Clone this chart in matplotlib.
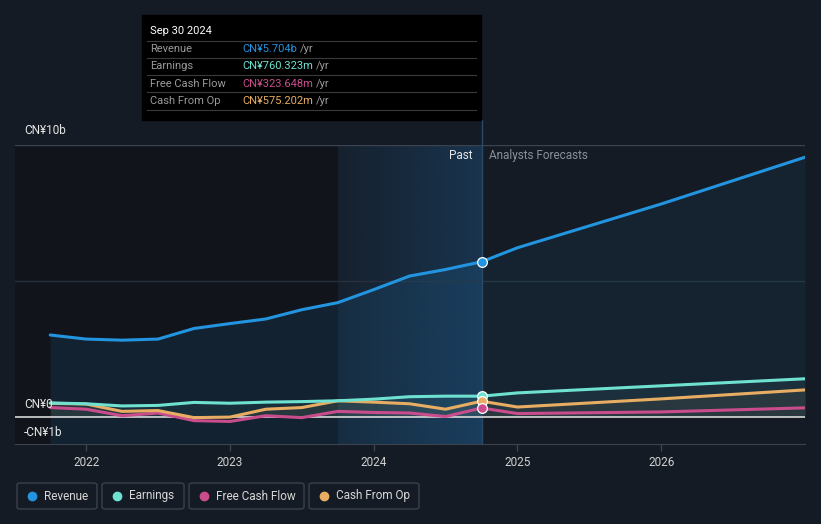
import numpy as np
import matplotlib.pyplot as plt
from matplotlib.patches import FancyBboxPatch, Rectangle
from matplotlib.lines import Line2D
from matplotlib.colors import to_rgb

plt.rcParams['font.family'] = ['Roboto', 'DejaVu Sans']

# quarterly history (CN¥ billions, trailing twelve months)
past_t = [2021.75, 2022.0, 2022.25, 2022.5, 2022.75, 2023.0, 2023.25,
          2023.5, 2023.75, 2024.0, 2024.25, 2024.5, 2024.75]
revenue = [3.01, 2.86, 2.82, 2.86, 3.25, 3.43, 3.60, 3.94, 4.20, 4.68, 5.18, 5.42, 5.704]
earnings = [0.51, 0.48, 0.40, 0.42, 0.53, 0.50, 0.54, 0.56, 0.59, 0.65, 0.74, 0.76, 0.760]
fcf = [0.34, 0.28, 0.04, 0.14, -0.14, -0.17, 0.04, -0.03, 0.20, 0.16, 0.14, 0.01, 0.324]
cfo = [0.50, 0.47, 0.20, 0.23, -0.03, -0.01, 0.28, 0.34, 0.59, 0.54, 0.48, 0.28, 0.575]

# analyst forecasts
fc_t = [2024.75, 2025.0, 2026.0, 2027.0]
revenue_fc = [5.704, 6.22, 7.83, 9.55]
earnings_fc = [0.760, 0.88, 1.14, 1.40]
fcf_fc = [0.324, 0.12, 0.18, 0.33]
cfo_fc = [0.575, 0.36, 0.66, 0.99]

years = [2022, 2023, 2024, 2025, 2026]

C_REV, C_EARN, C_FCF, C_CFO = '#2394df', '#6ee1d0', '#c94d8c', '#e8ad62'
BG = '#151b24'
W, H = 821, 524


def fx(px):
    return px / W


def fy(py):
    return 1 - py / H


fig = plt.figure(figsize=(W / 100, H / 100), dpi=100)
fig.patch.set_facecolor(BG)

# plot area: x 15..805 px, y 145 (10b) .. 444 (-1b)
ax = fig.add_axes([fx(15), fy(444), fx(805) - fx(15), fy(145) - fy(444)])
ax.set_facecolor(BG)
ax.set_xlim(2021.505, 2027.0)
ax.set_ylim(-1, 10)

# background bands
ax.axvspan(2021.505, 2023.75, color='#11151b', zorder=0, lw=0)
grad = np.zeros((2, 100, 4))
grad[..., :3] = to_rgb('#1d4d78')
grad[..., 3] = np.linspace(0.12, 0.5, 100)[None, :]
ax.imshow(grad, extent=(2023.75, 2024.75, -1, 10), aspect='auto', zorder=0.5,
          interpolation='bilinear')
ax.set_xlim(2021.505, 2027.0)
ax.set_ylim(-1, 10)

# grid
ax.axhline(10, color='#3b4350', lw=1, zorder=1)
ax.axhline(5, color='#27303c', lw=1, zorder=1)
ax.axhline(0, color='#d8d8d8', lw=1.2, zorder=4)

# revenue fills
ax.fill_between(past_t, revenue, -1, color=C_REV, alpha=0.11, lw=0, zorder=2)
ax.fill_between(fc_t, revenue_fc, 0, color=C_REV, alpha=0.07, lw=0, zorder=2)
for s, sf, c in [(earnings, earnings_fc, C_EARN), (cfo, cfo_fc, C_CFO)]:
    ax.fill_between(past_t, s, 0, color=c, alpha=0.07, lw=0, zorder=2)
    ax.fill_between(fc_t, sf, 0, color=c, alpha=0.07, lw=0, zorder=2)

# lines
for s, sf, c in [(fcf, fcf_fc, C_FCF), (cfo, cfo_fc, C_CFO),
                 (earnings, earnings_fc, C_EARN), (revenue, revenue_fc, C_REV)]:
    ax.plot(past_t, s, color=c, lw=2.2, solid_joinstyle='round',
            solid_capstyle='round', zorder=5)
    ax.plot(fc_t, sf, color=c, lw=2.2, solid_joinstyle='round',
            solid_capstyle='round', zorder=5)

# now line
ax.plot([2024.75, 2024.75], [-1, 10 + 25 / 27.2], color='#2a4966', lw=1,
        clip_on=False, zorder=3)

# markers at the latest reported point
for s, c in [(revenue, C_REV), (earnings, C_EARN), (cfo, C_CFO), (fcf, C_FCF)]:
    ax.plot(past_t[-1], s[-1], 'o', ms=7, mfc=c, mec='white', mew=0.9, zorder=7)

# axes styling
for sp in ['top', 'right', 'left']:
    ax.spines[sp].set_visible(False)
ax.spines['bottom'].set_color('#3b4350')
ax.set_yticks([])
ax.set_xticks(years)
ax.set_xticklabels([str(y) for y in years])
ax.tick_params(axis='x', colors='#3b4350', labelcolor='#d0d0d0', length=5,
               width=1, labelsize=8.5, pad=4)

# y labels
for txt, py in [('CN¥10b', 131), ('CN¥0', 404), ('-CN¥1b', 432)]:
    fig.text(fx(24), fy(py), txt, color='#e6e6e6', fontsize=8.5, va='center', ha='left')

fig.text(fx(472), fy(156), 'Past', color='#e6e6e6', fontsize=8.5, va='center', ha='right')
fig.text(fx(489), fy(156), 'Analysts Forecasts', color='#8a9099', fontsize=8.5,
         va='center', ha='left')

# tooltip
fig.patches.append(Rectangle((fx(142), fy(120)), fx(481) - fx(142), fy(15) - fy(120),
                             transform=fig.transFigure, color='black', zorder=10))
fig.text(fx(150), fy(31), 'Sep 30 2024', color='white', fontsize=8, va='center',
         ha='left', zorder=11)
for py in [41, 58, 75, 92, 110]:
    fig.lines.append(Line2D([fx(147), fx(476)], [fy(py), fy(py)], color='#3a3a3a',
                            lw=0.8, transform=fig.transFigure, zorder=11))
rows = [('Revenue', 'CN¥5.704b', C_REV), ('Earnings', 'CN¥760.323m', C_EARN),
        ('Free Cash Flow', 'CN¥323.648m', C_FCF), ('Cash From Op', 'CN¥575.202m', C_CFO)]
for i, (lab, val, c) in enumerate(rows):
    py = 49 + i * 17.3
    fig.text(fx(150), fy(py), lab, color='#9a9a9a', fontsize=8, va='center', zorder=11)
    t = fig.text(fx(242), fy(py), val, color=c, fontsize=8, va='center', zorder=11)
    fig.canvas.draw()
    bb = t.get_window_extent()
    fig.text(bb.x1 / W + fx(3), fy(py), '/yr', color='#9a9a9a', fontsize=8,
             va='center', zorder=11)

# legend
legend = [('Revenue', C_REV, 17, 97), ('Earnings', C_EARN, 102, 184),
          ('Free Cash Flow', C_FCF, 189, 304), ('Cash From Op', C_CFO, 309, 419)]
for lab, c, x0, x1 in legend:
    fig.patches.append(FancyBboxPatch((fx(x0), fy(509)), fx(x1) - fx(x0), fy(483) - fy(509),
                                      boxstyle='round,pad=0,rounding_size=0.004',
                                      transform=fig.transFigure, fc='none',
                                      ec='#3a414b', lw=1))
    fig.lines.append(Line2D([fx(x0 + 15)], [fy(496)], marker='o', ms=6, color=c,
                            lw=0, transform=fig.transFigure))
    fig.text(fx(x0 + 27), fy(496), lab, color='#d8d8d8', fontsize=8.5, va='center')

fig.savefig('out.png', dpi=100, facecolor=BG)
